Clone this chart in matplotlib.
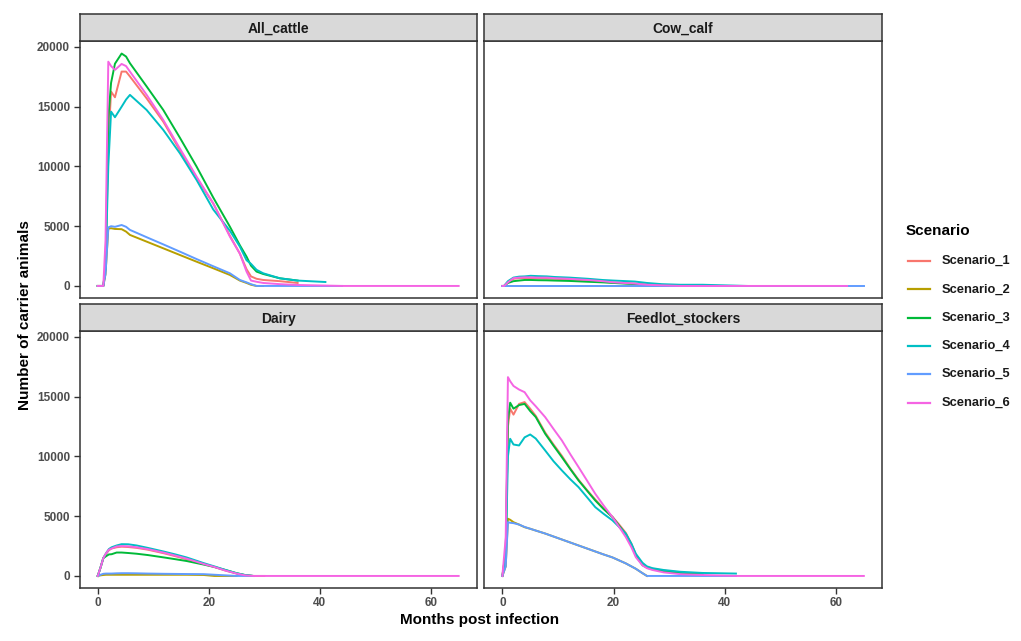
import numpy as np
import matplotlib
matplotlib.use("Agg")
import matplotlib.pyplot as plt
from matplotlib.lines import Line2D

plt.rcParams["font.family"] = ["Liberation Sans", "DejaVu Sans"]

nan = np.nan
scenarios = ["Scenario_1", "Scenario_2", "Scenario_3", "Scenario_4", "Scenario_5", "Scenario_6"]
colors = ["#F8766D", "#B79F00", "#00BA38", "#00BFC4", "#619CFF", "#F564E3"]
panels = ["All_cattle", "Cow_calf", "Dairy", "Feedlot_stockers"]

# ---- All_cattle ----
all_months = [0, 1.0, 1.4, 1.9, 2.4, 3.1, 4.3, 5.1, 5.8, 8.8, 11.8, 14.8, 17.8, 20.8, 23.8, 25.6,
              26.8, 27.6, 28.6, 29.8, 32.8, 36.0, 41.0, 44.0, 65.0]
all_s1 = [0, 0, 1500, 12000, 16260, 15790, 17940, 17940, 17530, 15700, 13750, 11350, 9050, 6900, 4200, 2700,
          1400, 800, 600, 500, 400, 250, nan, nan, nan]
all_s2 = [0, 0, 1000, 4800, 4830, 4770, 4750, 4550, 4270, 3710, 3150, 2590, 2030, 1480, 920, 450,
          250, 100, 0, 0, nan, nan, nan, nan, nan]
all_s3 = [0, 0, 1500, 14000, 17000, 18600, 19450, 19200, 18640, 16700, 14730, 12400, 9990, 7400, 4960, 3400,
          2450, 1700, 1200, 1000, 640, 450, nan, nan, nan]
all_s4 = [0, 0, 1500, 10000, 14590, 14120, 15000, 15600, 15990, 14730, 13060, 11100, 8870, 6400, 4620, 3290,
          2150, 1850, 1350, 1060, 640, 450, 330, nan, nan]
all_s5 = [0, 0, 1000, 4900, 5000, 4950, 5100, 4950, 4690, 4080, 3480, 2870, 2250, 1650, 1060, 500,
          300, 150, 0, 0, 0, 0, 0, 0, nan]
all_s6 = [0, 0, 3800, 18770, 18400, 18080, 18580, 18400, 17940, 16000, 13890, 11500, 9150, 6920, 4130, 2700,
          1200, 450, 350, 250, 150, 80, 30, 0, 0]

# ---- Cow_calf ----
cow_months = [0, 0.3, 1.0, 2.0, 3.0, 4.0, 5.1, 6.5, 8.0, 9.4, 12.0, 15.4, 18.0, 20.0, 23.8, 26.0,
              28.7, 32.0, 36.0, 44.0, 62.0, 65.0]
cow_s1 = [0, 0, 300, 600, 650, 650, 650, 640, 620, 600, 550, 450, 350, 280, 200, 120, 60, 30, 0, nan, nan, nan]
cow_s2 = [0, 0, 0, 0, 0, 0, 0, 0, 0, 0, 0, 0, 0, 0, 0, 0, 0, 0, 0, 0, nan, nan]
cow_s3 = [0, 0, 250, 400, 450, 500, 500, 480, 470, 450, 420, 350, 300, 250, 150, 80, 40, 0, nan, nan, nan, nan]
cow_s4 = [0, 0, 400, 700, 780, 800, 850, 820, 800, 750, 700, 600, 500, 450, 370, 250, 150, 100, 100, 0, nan, nan]
cow_s5 = [0, 0, 0, 0, 0, 0, 0, 0, 0, 0, 0, 0, 0, 0, 0, 0, 0, 0, 0, 0, 0, 0]
cow_s6 = [0, 0, 300, 650, 700, 720, 720, 700, 700, 650, 600, 500, 400, 300, 200, 100, 50, 0, 0, 0, 0, nan]

# ---- Dairy ----
dairy_months = [0, 0.5, 1.0, 1.5, 2.0, 2.5, 3.4, 4.3, 5.5, 7.0, 9.0, 11.9, 14.0, 16.0, 19.1, 21.0,
                23.0, 25.0, 26.5, 28.0, 30.0, 65.0]
dairy_s1 = [0, 700, 1490, 1850, 2150, 2300, 2400, 2450, 2420, 2350, 2200, 1900, 1650, 1400, 1000, 750,
            450, 200, 60, 0, 0, nan]
dairy_s2 = [0, 50, 80, 100, 100, 100, 100, 100, 100, 100, 100, 100, 100, 100, 80, 0, 0, 0, nan, nan, nan, nan]
dairy_s3 = [0, 700, 1490, 1650, 1800, 1820, 1960, 1960, 1920, 1860, 1750, 1550, 1400, 1250, 950, 750,
            500, 230, 80, 0, nan, nan]
dairy_s4 = [0, 700, 1490, 1900, 2250, 2400, 2550, 2660, 2650, 2550, 2350, 2040, 1800, 1550, 1070, 800,
            500, 230, 80, 0, nan, nan]
dairy_s5 = [0, 100, 180, 200, 200, 200, 220, 230, 230, 220, 200, 180, 170, 160, 150, 100, 50, 0, 0, 0, nan, nan]
dairy_s6 = [0, 700, 1490, 1900, 2200, 2300, 2470, 2500, 2480, 2400, 2250, 1950, 1700, 1450, 1000, 750,
            450, 200, 50, 0, 0, 0]

# ---- Feedlot_stockers ----
feed_months = [0, 0.6, 1.0, 1.4, 2.0, 3.0, 4.0, 5.0, 6.0, 7.7, 9.2, 10.7, 12.2, 13.7, 15.2, 16.7,
               18.2, 19.8, 21.0, 22.2, 23.2, 24.0, 25.2, 26.0, 27.0, 29.0, 32.0, 36.0, 42.0, 65.0]
feed_s1 = [0, 2000, 12500, 14000, 13500, 14400, 14550, 14000, 13400, 12000, 11000, 10050, 9000, 8050, 7200, 6400,
           5650, 4950, 4300, 3600, 2700, 1800, 1000, 750, 600, 450, 300, nan, nan, nan]
feed_s2 = [0, 800, 4790, 4700, 4500, 4300, 4080, 3950, 3800, 3550, 3300, 3050, 2800, 2550, 2300, 2050,
           1800, 1550, 1300, 1050, 800, 600, 230, 0, nan, nan, nan, nan, nan, nan]
feed_s3 = [0, 2000, 13000, 14500, 14000, 14300, 14400, 13800, 13300, 11900, 10900, 9940, 8950, 7990, 7150, 6320,
           5600, 4920, 4200, 3500, 2600, 1700, 900, 700, 550, 400, 250, 150, nan, nan]
feed_s4 = [0, 1500, 10000, 11480, 11000, 10920, 11600, 11840, 11500, 10500, 9600, 8830, 8100, 7430, 6600, 5760,
           5200, 4650, 4100, 3530, 2700, 1850, 1100, 800, 650, 500, 350, 250, 200, nan]
feed_s5 = [0, 800, 4500, 4450, 4420, 4300, 4100, 3950, 3800, 3550, 3300, 3050, 2800, 2550, 2300, 2050,
           1800, 1550, 1300, 1050, 800, 600, 230, 0, 0, 0, 0, 0, 0, nan]
feed_s6 = [0, 3200, 16640, 16300, 15900, 15600, 15380, 14700, 14200, 13290, 12300, 11340, 10200, 9110, 8000, 6880,
           5900, 4920, 4100, 3250, 2400, 1570, 880, 650, 500, 300, 150, 80, 0, 0]

panel_data = {
    "All_cattle": (all_months, [all_s1, all_s2, all_s3, all_s4, all_s5, all_s6]),
    "Cow_calf": (cow_months, [cow_s1, cow_s2, cow_s3, cow_s4, cow_s5, cow_s6]),
    "Dairy": (dairy_months, [dairy_s1, dairy_s2, dairy_s3, dairy_s4, dairy_s5, dairy_s6]),
    "Feedlot_stockers": (feed_months, [feed_s1, feed_s2, feed_s3, feed_s4, feed_s5, feed_s6]),
}

W, H = 1021, 641
fig = plt.figure(figsize=(W / 100, H / 100), dpi=100)

# pixel boxes of each panel
lefts = [79.7, 484.3]
rights = [476.7, 881.9]
tops = [41.3, 331.3]
bottoms = [297.6, 587.6]
strip_h = 27
GREY = "#4D4D4D"

for i, name in enumerate(panels):
    r, c = divmod(i, 2)
    l, rt, t, b = lefts[c], rights[c], tops[r], bottoms[r]
    ax = fig.add_axes([l / W, 1 - b / H, (rt - l) / W, (b - t) / H])
    months, series = panel_data[name]
    for s, col in zip(series, colors):
        ax.plot(months, np.array(s, dtype=float), color=col, lw=1.4, solid_joinstyle="round")
    ax.set_xlim(-3.25, 68.25)
    ax.set_ylim(-975, 20475)
    ax.set_xticks([0, 20, 40, 60])
    ax.set_yticks([0, 5000, 10000, 15000, 20000])
    for sp in ax.spines.values():
        sp.set_color("#333333")
        sp.set_linewidth(1.1)
    ax.tick_params(length=4, width=1, color="#333333", labelcolor=GREY, labelsize=8.5, pad=3)
    for lab in ax.get_xticklabels() + ax.get_yticklabels():
        lab.set_fontweight("bold")
    if r == 0:
        ax.tick_params(axis="x", bottom=False, labelbottom=False)
    if c == 1:
        ax.tick_params(axis="y", left=False, labelleft=False)

    # facet strip
    sax = fig.add_axes([l / W, 1 - t / H, (rt - l) / W, strip_h / H])
    sax.set_xlim(0, 1); sax.set_ylim(0, 1)
    sax.set_xticks([]); sax.set_yticks([])
    sax.set_facecolor("#D9D9D9")
    for sp in sax.spines.values():
        sp.set_color("#333333")
        sp.set_linewidth(1.1)
    sax.text(0.5, 0.45, name, ha="center", va="center", fontsize=10, fontweight="bold", color="#1A1A1A")

fig.text(480 / W, 1 - 620 / H, "Months post infection", ha="center", va="center",
         fontsize=11, fontweight="bold")
fig.text(25 / W, 1 - 315 / H, "Number of carrier animals", ha="center", va="center",
         rotation=90, fontsize=11, fontweight="bold")

# legend
fig.text(906 / W, 1 - 231 / H, "Scenario", ha="left", va="center", fontsize=11, fontweight="bold")
for k, (lab, col) in enumerate(zip(scenarios, colors)):
    y = 1 - (261 + k * 28.3) / H
    fig.add_artist(Line2D([908 / W, 930 / W], [y, y], color=col, lw=1.6, transform=fig.transFigure))
    fig.text(942 / W, y, lab, ha="left", va="center", fontsize=9.3, fontweight="bold", color="#1A1A1A")

fig.savefig("out.png", dpi=100)
